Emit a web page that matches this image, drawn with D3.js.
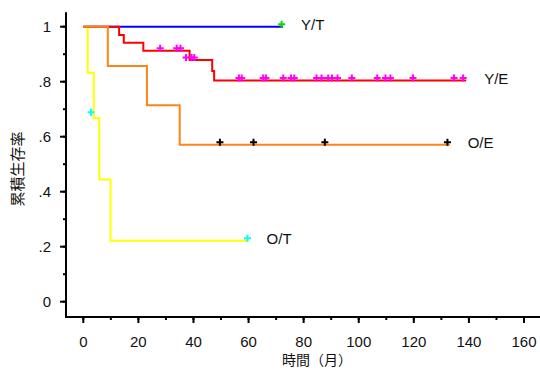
<!DOCTYPE html>
<html>
<head>
<meta charset="utf-8">
<script src="https://cdn.jsdelivr.net/npm/d3@7"></script>
<style>
  body { margin: 0; background: #fff; }
  text { font-family: "Liberation Sans", Arial, sans-serif; fill: #111; }
  .cjk { font-family: "Noto Sans CJK JP", sans-serif; }
</style>
</head>
<body>
<div id="chart"></div>
<script>
// step points [time, survival] for each group
var ytSteps = [[0, 1]];
var yeSteps = [[0, 1], [13, 0.970], [14.7, 0.942], [21.8, 0.913], [38.6, 0.879], [46.8, 0.839], [47.5, 0.804]];
var oeSteps = [[0, 1], [8.9, 0.857], [23.1, 0.714], [35, 0.571]];
var otSteps = [[0, 1], [1.6, 0.833], [3.8, 0.667], [5.8, 0.444], [9.9, 0.222]];

// last follow-up time
var ytEnd = 72.5, yeEnd = 139, oeEnd = 133, otEnd = 60;

// censored observations [time, survival]
var ytCens = [[72, 1]];
var yeCens = [[27.9, 0.913], [33.9, 0.913], [35.3, 0.913], [37.3, 0.879], [39.3, 0.879], [40.3, 0.879],
  [56.5, 0.804], [57.5, 0.804], [65.3, 0.804], [66.3, 0.804], [72.6, 0.804], [75.4, 0.804], [76.6, 0.804],
  [84.7, 0.804], [86.5, 0.804], [88.9, 0.804], [90.3, 0.804], [92.3, 0.804], [97.5, 0.804],
  [106.7, 0.804], [109.7, 0.804], [111.5, 0.804], [119.7, 0.804], [134.6, 0.804], [137.9, 0.804]];
var oeCens = [[49.6, 0.571], [61.8, 0.571], [87.7, 0.571], [132.2, 0.571]];
var otCens = [[2.8, 0.68], [59.6, 0.222]];

var xTicks = [0, 20, 40, 60, 80, 100, 120, 140, 160];
var yTicks = [0, 0.2, 0.4, 0.6, 0.8, 1];
var yLabels = ["0", ".2", ".4", ".6", ".8", "1"];

var width = 540, height = 371;

var svg = d3.select("#chart").append("svg")
    .attr("width", width)
    .attr("height", height);

var x = d3.scaleLinear().domain([0, 160]).range([83.3, 524]);
var y = d3.scaleLinear().domain([0, 1]).range([301.7, 26.7]);

var axisX = 66, axisY = 317;

// axes lines
svg.append("line")
    .attr("x1", axisX).attr("x2", axisX)
    .attr("y1", y(1.053)).attr("y2", axisY + 1)
    .attr("stroke", "#000").attr("stroke-width", 2);
svg.append("line")
    .attr("x1", axisX - 1).attr("x2", width)
    .attr("y1", axisY).attr("y2", axisY)
    .attr("stroke", "#000").attr("stroke-width", 2);

// y ticks
var yAxis = svg.append("g").attr("transform", "translate(" + axisX + ",0)");
yAxis.selectAll(".minor")
    .data(d3.range(0, 1.01, 0.1))
    .enter().append("line")
    .attr("x1", -3).attr("x2", 0)
    .attr("y1", d => y(d)).attr("y2", d => y(d))
    .attr("stroke", "#000").attr("stroke-width", 2);
yAxis.selectAll(".major")
    .data(yTicks)
    .enter().append("line")
    .attr("x1", -6).attr("x2", 0)
    .attr("y1", d => y(d)).attr("y2", d => y(d))
    .attr("stroke", "#000").attr("stroke-width", 2);
yAxis.selectAll(".lab")
    .data(yTicks)
    .enter().append("text")
    .attr("x", -15)
    .attr("y", d => y(d))
    .attr("dy", "0.36em")
    .attr("text-anchor", "end")
    .style("font-size", "15px")
    .text((d, i) => yLabels[i]);

// x ticks
var xAxis = svg.append("g").attr("transform", "translate(0," + axisY + ")");
xAxis.selectAll(".minor")
    .data(d3.range(0, 161, 10))
    .enter().append("line")
    .attr("x1", d => x(d)).attr("x2", d => x(d))
    .attr("y1", 0).attr("y2", 3)
    .attr("stroke", "#000").attr("stroke-width", 2);
xAxis.selectAll(".major")
    .data(xTicks)
    .enter().append("line")
    .attr("x1", d => x(d)).attr("x2", d => x(d))
    .attr("y1", 0).attr("y2", 6)
    .attr("stroke", "#000").attr("stroke-width", 2);
xAxis.selectAll(".lab")
    .data(xTicks)
    .enter().append("text")
    .attr("x", d => x(d))
    .attr("y", 25)
    .attr("dy", "0.36em")
    .attr("text-anchor", "middle")
    .style("font-size", "15px")
    .text(d => d);

// axis titles
svg.append("text")
    .attr("class", "cjk")
    .attr("x", 317).attr("y", 360)
    .attr("dy", "0.36em")
    .attr("text-anchor", "middle")
    .style("font-size", "14px")
    .text("時間（月）");
svg.append("text")
    .attr("class", "cjk")
    .attr("transform", "translate(18,169) rotate(-90)")
    .attr("dy", "0.36em")
    .attr("text-anchor", "middle")
    .style("font-size", "15px")
    .text("累積生存率");

// survival curves
var groups = [
    { name: "Y/T", steps: ytSteps, end: ytEnd, cens: ytCens, color: "#0000ff", mark: "#00e000" },
    { name: "O/T", steps: otSteps, end: otEnd, cens: otCens, color: "#ffff00", mark: "#00ffff" },
    { name: "Y/E", steps: yeSteps, end: yeEnd, cens: yeCens, color: "#ff0000", mark: "#ff00ff" },
    { name: "O/E", steps: oeSteps, end: oeEnd, cens: oeCens, color: "#ff8418", mark: "#000000" }
];

var line = d3.line()
    .x(d => x(d[0]))
    .y(d => y(d[1]))
    .curve(d3.curveStepAfter);

groups.forEach(function (g) {
    var last = g.steps[g.steps.length - 1];
    var pts = g.steps.concat([[g.end, last[1]]]);
    svg.append("path")
        .datum(pts)
        .attr("d", line)
        .attr("fill", "none")
        .attr("stroke", g.color)
        .attr("stroke-width", 2);
});

groups.forEach(function (g) {
    svg.selectAll(null)
        .data(g.cens)
        .enter().append("path")
        .attr("d", d => {
            var cx = x(d[0]), cy = y(d[1]) - 2.5;
            return "M" + (cx - 3.5) + "," + cy + "H" + (cx + 3.5) +
                "M" + cx + "," + (cy - 3.5) + "V" + (cy + 3.5);
        })
        .attr("stroke", g.mark)
        .attr("stroke-width", 2)
        .attr("fill", "none");

    var last = g.steps[g.steps.length - 1];
    svg.append("text")
        .attr("x", x(g.end) + 18)
        .attr("y", y(last[1]) - 2)
        .attr("dy", "0.36em")
        .style("font-size", "15px")
        .text(g.name);
});
</script>
</body>
</html>
